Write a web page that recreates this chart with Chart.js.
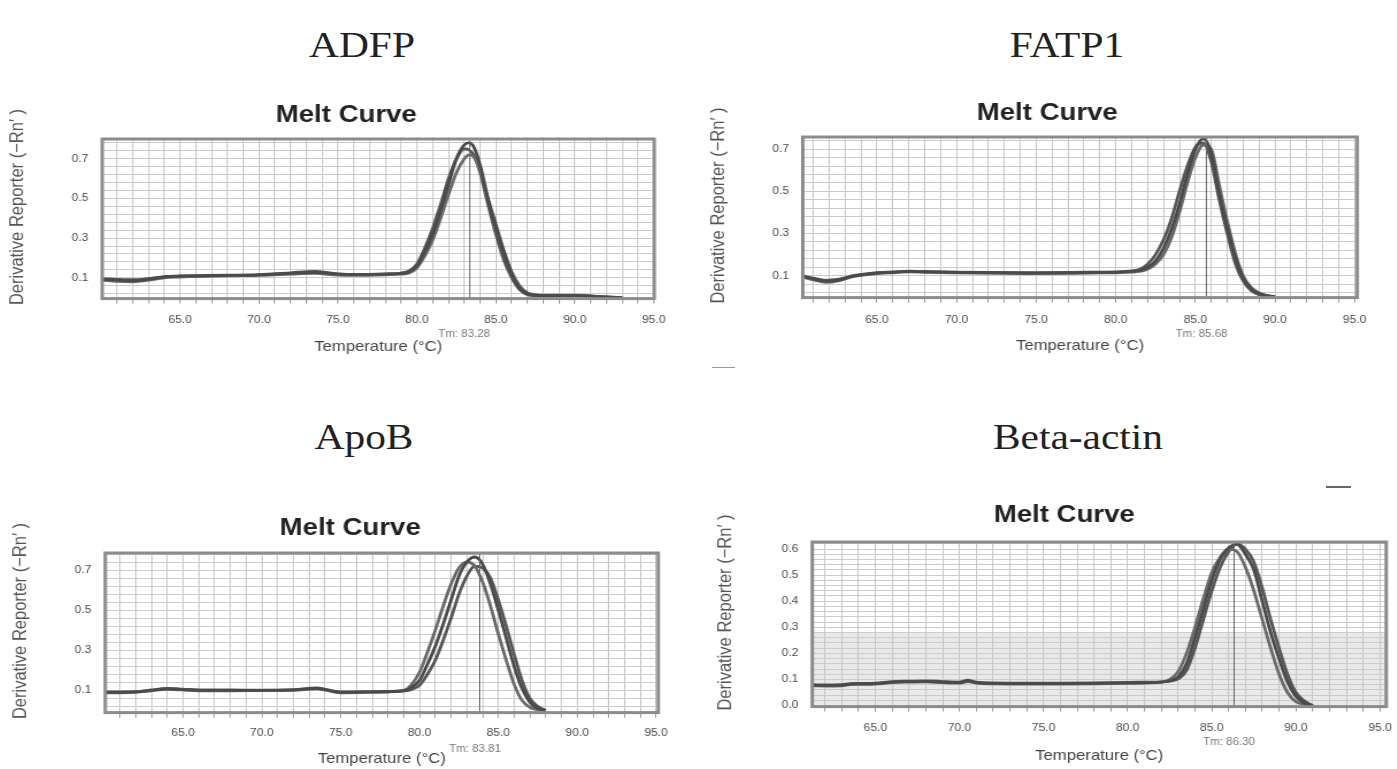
<!DOCTYPE html>
<html><head><meta charset="utf-8">
<script src="https://cdn.jsdelivr.net/npm/chart.js@4.4.1/dist/chart.umd.min.js"></script>
<style>
html,body{margin:0;padding:0;background:#fff;width:1397px;height:769px;overflow:hidden;position:relative;font-family:"Liberation Sans",Arial,sans-serif;}
.gene{position:absolute;font-family:"Liberation Serif","Times New Roman",serif;font-size:36px;color:#222;white-space:nowrap;transform:translate(-50%,-50%) scaleX(1.15);}
.panel{position:absolute;transform-origin:0 0;}
.panel canvas{display:block;}
.mark{position:absolute;background:#666;}
</style></head><body>
<div class="gene" style="left:362px;top:45px">ADFP</div>
<div class="gene" style="left:1067px;top:45px">FATP1</div>
<div class="gene" style="left:364px;top:437px">ApoB</div>
<div class="gene" style="left:1078px;top:437px">Beta-actin</div>
<div class="mark" style="left:1326px;top:486px;width:25px;height:2px"></div>
<div class="mark" style="left:712px;top:367px;width:23px;height:1px;background:#999"></div>
<div class="panel" id="p1"><canvas id="c1"></canvas></div>
<div class="panel" id="p2"><canvas id="c2"></canvas></div>
<div class="panel" id="p3"><canvas id="c3"></canvas></div>
<div class="panel" id="p4"><canvas id="c4"></canvas></div>
<script>
// ---------------- DATA ----------------
const geneNames = ['ADFP', 'FATP1', 'ApoB', 'Beta-actin'];
const chartTitle = 'Melt Curve';
const xAxisTitle = 'Temperature (°C)';
const yAxisTitle = 'Derivative Reporter (−Rn′ )';
const xTickLabels = ['65.0', '70.0', '75.0', '80.0', '85.0', '90.0', '95.0'];
const oddYTickLabels = ['0.1', '0.3', '0.5', '0.7'];
const actinYTickLabels = ['0.0', '0.1', '0.2', '0.3', '0.4', '0.5', '0.6'];
const tmValues = [83.28, 85.68, 83.81, 86.30];
const tmLabels = ['Tm: 83.28', 'Tm: 85.68', 'Tm: 83.81', 'Tm: 86.30'];

// ADFP
const adfpTemps = [60.1,61,62,63,64,65,66,68,70,72,73.5,75,76,78,79,79.5,80,80.5,81,81.5,82,82.5,83,83.3,83.6,84,84.5,85,85.5,86,86.5,87,87.5,88,89,90,91,92,93];
const adfpRep1 = [0.092,0.088,0.085,0.092,0.105,0.108,0.11,0.112,0.115,0.122,0.128,0.118,0.116,0.118,0.122,0.13,0.16,0.23,0.32,0.44,0.57,0.7,0.77,0.78,0.76,0.67,0.5,0.36,0.23,0.12,0.05,0.02,0.012,0.01,0.01,0.01,0.008,0.003,0.0];
const adfpRep2 = [0.088,0.082,0.08,0.088,0.1,0.104,0.106,0.11,0.112,0.118,0.122,0.113,0.112,0.115,0.118,0.124,0.15,0.21,0.29,0.4,0.52,0.63,0.7,0.72,0.71,0.64,0.5,0.37,0.24,0.13,0.06,0.025,0.015,0.012,0.012,0.01,0.006,0.002,0.0];
const adfpRep3 = [0.095,0.092,0.09,0.096,0.106,0.11,0.111,0.113,0.116,0.125,0.132,0.12,0.117,0.12,0.124,0.135,0.17,0.25,0.35,0.47,0.6,0.7,0.75,0.745,0.72,0.63,0.47,0.32,0.19,0.1,0.04,0.015,0.01,0.008,0.01,0.012,0.008,0.003,0.0];

// FATP1
const fatpTemps = [60.3,61,61.8,62.5,63.5,65,66,67,68,70,72,75,77,79,80,81,81.5,82,82.5,83,83.5,84,84.5,85,85.5,86,86.5,87,87.5,88,88.5,89,89.5,90];
const fatpRep1 = [0.098,0.085,0.074,0.078,0.098,0.112,0.116,0.12,0.118,0.115,0.114,0.112,0.113,0.115,0.116,0.12,0.125,0.14,0.17,0.23,0.32,0.44,0.58,0.7,0.75,0.68,0.49,0.33,0.19,0.09,0.04,0.015,0.005,0.0];
const fatpRep2 = [0.094,0.08,0.068,0.074,0.095,0.11,0.114,0.118,0.116,0.113,0.112,0.11,0.111,0.113,0.114,0.117,0.12,0.13,0.155,0.2,0.28,0.4,0.54,0.66,0.72,0.7,0.53,0.36,0.21,0.1,0.045,0.018,0.006,0.0];
const fatpRep3 = [0.1,0.088,0.078,0.082,0.1,0.114,0.118,0.122,0.12,0.117,0.115,0.114,0.115,0.117,0.118,0.123,0.13,0.155,0.2,0.27,0.37,0.5,0.62,0.71,0.73,0.64,0.46,0.3,0.16,0.075,0.03,0.01,0.003,0.0];

// ApoB
const apobTemps = [60.1,61,62,63,64,65,66,68,70,72,73.5,74.5,75,77,79,79.5,80,80.5,81,81.5,82,82.5,83,83.5,84,84.5,85,85.5,86,86.5,87,87.5,88];
const apobRep1 = [0.09,0.09,0.092,0.1,0.108,0.104,0.1,0.1,0.1,0.102,0.11,0.095,0.09,0.092,0.098,0.115,0.15,0.23,0.32,0.43,0.55,0.67,0.74,0.765,0.73,0.63,0.5,0.36,0.22,0.11,0.04,0.01,0.0];
const apobRep2 = [0.088,0.088,0.09,0.098,0.105,0.102,0.098,0.098,0.099,0.1,0.108,0.093,0.088,0.09,0.1,0.13,0.19,0.29,0.4,0.52,0.63,0.71,0.74,0.72,0.64,0.52,0.38,0.25,0.13,0.05,0.015,0.003,0.0];
const apobRep3 = [0.092,0.092,0.094,0.102,0.11,0.106,0.102,0.102,0.101,0.104,0.112,0.097,0.092,0.094,0.097,0.105,0.125,0.18,0.25,0.35,0.46,0.58,0.67,0.72,0.71,0.66,0.55,0.42,0.28,0.15,0.06,0.02,0.0];

// Beta-actin
const actinTemps = [61.3,62,63,63.5,64,65,66,67,68,69,70,70.5,71,72,74,76,78,80,82,82.5,83,83.5,84,84.5,85,85.5,86,86.5,87,87.5,88,88.5,89,89.5,90,90.5,91];
const actinRep1 = [0.078,0.077,0.078,0.082,0.083,0.084,0.09,0.092,0.093,0.09,0.088,0.095,0.088,0.085,0.084,0.084,0.085,0.087,0.09,0.095,0.11,0.16,0.26,0.37,0.48,0.56,0.605,0.618,0.58,0.52,0.4,0.28,0.18,0.09,0.035,0.01,0.0];
const actinRep2 = [0.076,0.075,0.076,0.08,0.081,0.082,0.088,0.09,0.091,0.088,0.086,0.092,0.086,0.083,0.082,0.082,0.083,0.085,0.09,0.1,0.13,0.2,0.3,0.41,0.51,0.57,0.6,0.59,0.53,0.44,0.33,0.22,0.12,0.05,0.015,0.004,0.0];
const actinRep3 = [0.08,0.079,0.08,0.084,0.085,0.086,0.092,0.094,0.095,0.092,0.09,0.097,0.09,0.087,0.086,0.086,0.087,0.089,0.091,0.094,0.102,0.135,0.22,0.33,0.44,0.53,0.59,0.62,0.6,0.55,0.45,0.33,0.22,0.12,0.05,0.018,0.0];

// ---------------- RENDERING ----------------
const S = 1.15; // horizontal stretch of the original picture
const FONT = '"Liberation Sans", Arial, sans-serif';
const lineColors = ['#4a4a4a', '#6a6a6a', '#575757'];

function pts(t, v) { return t.map((x, i) => ({x: x, y: v[i]})); }

const panelPlugin = {
  id: 'panelDeco',
  beforeDraw(chart, args, o) {
    const {ctx, chartArea: a} = chart;
    ctx.save();
    ctx.fillStyle = '#ffffff';
    ctx.fillRect(a.left, a.top, a.right - a.left, a.bottom - a.top);
    if (o.shadeBelow != null) {
      const y = chart.scales.y.getPixelForValue(o.shadeBelow);
      ctx.fillStyle = '#e9e9e9';
      ctx.fillRect(a.left, y, a.right - a.left, a.bottom - y);
    }
    // chart title
    ctx.fillStyle = '#222';
    ctx.font = 'bold 24px ' + FONT;
    ctx.textAlign = 'center';
    ctx.textBaseline = 'middle';
    ctx.fillText(o.title, o.titleX, 20);
    // y axis title
    ctx.save();
    ctx.translate(15, o.yTitleY);
    ctx.rotate(-Math.PI / 2);
    ctx.fillStyle = '#555';
    ctx.font = '16.5px ' + FONT;
    ctx.fillText(o.yTitle, 0, 0);
    ctx.restore();
    ctx.restore();
  },
  afterDatasetsDraw(chart, args, o) {
    const {ctx, chartArea: a} = chart;
    const x = chart.scales.x.getPixelForValue(o.tm);
    ctx.save();
    ctx.strokeStyle = '#666';
    ctx.lineWidth = 1;
    ctx.beginPath();
    ctx.moveTo(Math.round(x) + 0.5, a.top);
    ctx.lineTo(Math.round(x) + 0.5, a.bottom);
    ctx.stroke();
    ctx.strokeStyle = '#8c8c8c';
    ctx.lineWidth = 3;
    ctx.strokeRect(a.left, a.top, a.right - a.left, a.bottom - a.top);
    ctx.fillStyle = '#777';
    ctx.font = '10px ' + FONT;
    ctx.textAlign = 'center';
    ctx.textBaseline = 'middle';
    ctx.fillText(o.tmLabel, x - 4, a.bottom + o.tmOff);
    ctx.restore();
  }
};

function makePanel(n, g) {
  const panel = document.getElementById('p' + n);
  const canvas = document.getElementById('c' + n);
  const Lc = g.yTitleX - S * 15;
  const W = Math.round(2 * (g.titleX - Lc) / S) + 20;
  const yAxisW = (g.plotL - Lc) / S;
  const padR = W - (g.plotR - Lc) / S;
  const Tc = g.titleY - 20;
  const topH = g.plotT - Tc;
  const xAxisH = (g.xTitleY - g.plotB) + 8.4 + 4;
  const H = Math.round(topH + (g.plotB - g.plotT) + xAxisH);
  panel.style.left = Lc + 'px';
  panel.style.top = Tc + 'px';
  panel.style.width = W + 'px';
  panel.style.height = H + 'px';
  panel.style.transform = 'scaleX(' + S + ')';
  canvas.width = W; canvas.height = H;
  canvas.style.width = W + 'px'; canvas.style.height = H + 'px';

  const datasets = g.reps.map((r, i) => ({
    data: pts(g.temps, r),
    borderColor: lineColors[i % lineColors.length],
    borderWidth: 2.8,
    pointRadius: 0,
    cubicInterpolationMode: 'monotone',
    fill: false
  }));

  new Chart(canvas, {
    type: 'line',
    data: {datasets: datasets},
    plugins: [panelPlugin],
    options: {
      responsive: false,
      animation: false,
      layout: {padding: {left: 0, right: padR, top: topH, bottom: 0}},
      plugins: {
        legend: {display: false},
        tooltip: {enabled: false},
        title: {display: false},
        panelDeco: {tm: g.tm, tmLabel: g.tmLabel, tmOff: g.tmOff, shadeBelow: g.shadeBelow,
                    title: chartTitle, titleX: (g.titleX - Lc) / S,
                    yTitle: yAxisTitle, yTitleY: ((g.plotT + g.plotB) / 2 - 12) - Tc}
      },
      scales: {
        x: {
          type: 'linear', min: g.xMin, max: g.xMax,
          border: {display: false},
          grid: {color: '#c6c6c6', lineWidth: 1, drawTicks: true, tickLength: 5, tickColor: '#9a9a9a'},
          afterBuildTicks(scale) {
            const t = [];
            for (let v = Math.ceil(g.xMin); v <= Math.floor(g.xMax); v++) t.push({value: v});
            scale.ticks = t;
          },
          ticks: {
            autoSkip: false, maxRotation: 0, color: '#4a4a4a', padding: g.xLabOff - 5 - 6.6 + 1,
            font: {family: FONT, size: 10.5},
            callback(v) { const s = Number(v).toFixed(1); return xTickLabels.includes(s) ? s : ''; }
          },
          title: {display: true, text: xAxisTitle, color: '#444',
                  font: {family: FONT, size: 14.5}, padding: {top: 0, bottom: 4}},
          afterFit(scale) { scale.height = xAxisH; }
        },
        y: {
          type: 'linear', min: g.yMin, max: g.yMax,
          border: {display: false},
          grid: {color: '#cbcbcb', lineWidth: 1, drawTicks: false},
          afterBuildTicks(scale) {
            const t = [];
            for (let k = 0; ; k++) {
              const v = Math.round((g.yStart + k * g.yStep) * 1000) / 1000;
              if (v > g.yMax) break;
              t.push({value: v});
            }
            scale.ticks = t;
          },
          ticks: {
            autoSkip: false, color: '#4a4a4a', padding: 12,
            font: {family: FONT, size: 10.5},
            callback(v) {
              const s = Number(v).toFixed(1);
              return (Math.abs(v - parseFloat(s)) < 1e-6 && g.yLabels.includes(s)) ? s : '';
            }
          },
          title: {display: false},
          afterFit(scale) { scale.width = yAxisW; }
        }
      }
    }
  });
}

makePanel(1, {yTitleX: 17, plotL: 102, plotR: 654, plotT: 139, plotB: 299, titleX: 346, titleY: 115,
  xLabOff: 21, xTitleY: 348, tmOff: 36, xMin: 60.07, xMax: 95.03, yMin: -0.005, yMax: 0.8,
  yStart: 0.02, yStep: 0.04, yLabels: oddYTickLabels, tm: tmValues[0], tmLabel: tmLabels[0],
  temps: adfpTemps, reps: [adfpRep1, adfpRep2, adfpRep3]});
makePanel(2, {yTitleX: 718, plotL: 802.5, plotR: 1357, plotT: 137, plotB: 298, titleX: 1047, titleY: 113,
  xLabOff: 22, xTitleY: 347, tmOff: 37, xMin: 60.34, xMax: 95.17, yMin: -0.004, yMax: 0.758,
  yStart: 0.02, yStep: 0.04, yLabels: oddYTickLabels, tm: tmValues[1], tmLabel: tmLabels[1],
  temps: fatpTemps, reps: [fatpRep1, fatpRep2, fatpRep3]});
makePanel(3, {yTitleX: 20, plotL: 105, plotR: 658, plotT: 553, plotB: 713, titleX: 350, titleY: 528,
  xLabOff: 20, xTitleY: 760, tmOff: 37, xMin: 60.07, xMax: 95.14, yMin: -0.011, yMax: 0.785,
  yStart: 0.02, yStep: 0.04, yLabels: oddYTickLabels, tm: tmValues[2], tmLabel: tmLabels[2],
  temps: apobTemps, reps: [apobRep1, apobRep2, apobRep3]});
makePanel(4, {yTitleX: 725, plotL: 812, plotR: 1386, plotT: 542, plotB: 707, titleX: 1064, titleY: 515,
  xLabOff: 21, xTitleY: 757, tmOff: 36, xMin: 61.25, xMax: 95.37, yMin: -0.004, yMax: 0.627,
  yStart: 0.0, yStep: 0.02, yLabels: actinYTickLabels, tm: tmValues[3], tmLabel: tmLabels[3],
  shadeBelow: 0.28, temps: actinTemps, reps: [actinRep1, actinRep2, actinRep3]});
</script>
</body></html>
